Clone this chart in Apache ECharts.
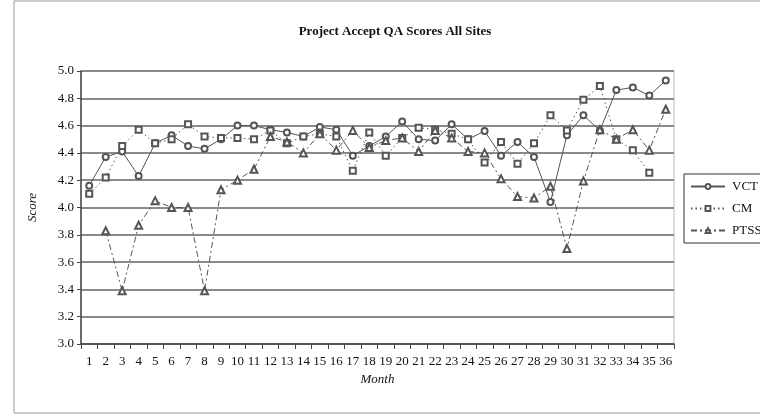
<!DOCTYPE html>
<html>
<head>
<meta charset="utf-8">
<style>
  html, body { margin: 0; padding: 0; background: #fff; }
  #chart { width: 760px; height: 417px; }
</style>
<script src="https://cdn.jsdelivr.net/npm/echarts@6/dist/echarts.min.js"></script>
</head>
<body>
<div id="chart"></div>
<script>
  // Months on the category axis
  var months = ['1', '2', '3', '4', '5', '6', '7', '8', '9', '10', '11', '12',
    '13', '14', '15', '16', '17', '18', '19', '20', '21', '22', '23', '24',
    '25', '26', '27', '28', '29', '30', '31', '32', '33', '34', '35', '36'];

  // QA scores per site
  var vct = [4.16, 4.37, 4.41, 4.23, 4.47, 4.53, 4.45, 4.43, 4.50, 4.60, 4.60, 4.57,
    4.55, 4.52, 4.59, 4.57, 4.38, 4.45, 4.52, 4.63, 4.50, 4.49, 4.61, 4.50,
    4.56, 4.38, 4.48, 4.37, 4.04, 4.53, 4.675, 4.565, 4.86, 4.88, 4.82, 4.93];
  var cm = [4.10, 4.22, 4.45, 4.57, 4.47, 4.50, 4.61, 4.52, 4.51, 4.51, 4.50, 4.565,
    4.47, 4.52, 4.54, 4.52, 4.27, 4.55, 4.38, 4.51, 4.585, 4.57, 4.54, 4.50,
    4.33, 4.48, 4.32, 4.47, 4.675, 4.565, 4.79, 4.89, 4.50, 4.42, 4.255, null];
  var ptss = [null, 3.83, 3.39, 3.87, 4.05, 4.00, 4.00, 3.39, 4.13, 4.20, 4.28, 4.52,
    4.48, 4.40, 4.54, 4.42, 4.565, 4.44, 4.49, 4.51, 4.41, 4.565, 4.51, 4.41,
    4.40, 4.21, 4.08, 4.07, 4.155, 3.70, 4.195, 4.57, 4.50, 4.57, 4.42, 4.72];

  var serif = '"Liberation Serif", "DejaVu Serif", serif';
  var lineColor = '#555';

  function makeSeries(name, data, symbol, size, dash) {
    return {
      name: name,
      type: 'line',
      data: data,
      symbol: symbol,
      symbolSize: size,
      showAllSymbol: true,
      connectNulls: false,
      animation: false,
      // empty* symbols: stroke takes the item colour, fill stays white
      itemStyle: { color: '#555', borderWidth: 0.8 },
      lineStyle: { color: lineColor, width: 1, type: dash },
      emphasis: { disabled: true }
    };
  }

  var chart = echarts.init(document.getElementById('chart'));

  chart.setOption({
    backgroundColor: '#fff',
    animation: false,
    title: {
      text: 'Project Accept QA Scores All Sites',
      left: 390,
      textAlign: 'center',
      top: 20,
      textStyle: { fontFamily: serif, fontSize: 13, fontWeight: 'bold', color: '#111' }
    },
    graphic: [{
      type: 'rect',
      shape: { x: 14, y: 1, width: 800, height: 412 },
      style: { fill: 'none', stroke: '#999', lineWidth: 1 },
      silent: true
    }],
    legend: {
      orient: 'vertical',
      left: 684,
      top: 174,
      itemWidth: 34,
      itemHeight: 6,
      itemGap: 9,
      padding: [6, 8, 6, 6],
      borderColor: '#333',
      borderWidth: 1,
      backgroundColor: '#fff',
      textStyle: { fontFamily: serif, fontSize: 13, color: '#111', padding: [0, 0, 0, 2] },
      data: ['VCT', 'CM', 'PTSS']
    },
    grid: {
      left: 81,
      right: 86,
      top: 71,
      bottom: 73,
      show: true,
      borderColor: '#bbb',
      borderWidth: 1
    },
    xAxis: {
      type: 'category',
      data: months,
      boundaryGap: true,
      name: 'Month',
      nameLocation: 'middle',
      nameGap: 28,
      nameTextStyle: { fontFamily: serif, fontSize: 13, fontStyle: 'italic', color: '#111' },
      axisLine: { lineStyle: { color: '#444', width: 1.5 } },
      axisTick: { show: true, length: 5, inside: false, lineStyle: { color: '#444' } },
      axisLabel: { interval: 0, fontFamily: serif, fontSize: 13, color: '#111', margin: 11 },
      splitLine: { show: false }
    },
    yAxis: {
      type: 'value',
      min: 3.0,
      max: 5.0,
      interval: 0.2,
      name: 'Score',
      nameLocation: 'middle',
      nameGap: 42,
      nameTextStyle: { fontFamily: serif, fontSize: 13, fontStyle: 'italic', color: '#111' },
      axisLine: { show: true, lineStyle: { color: '#444', width: 1.5 } },
      axisTick: { show: true, length: 4, lineStyle: { color: '#444' } },
      axisLabel: {
        fontFamily: serif, fontSize: 13, color: '#111', margin: 7,
        formatter: function (v) { return v.toFixed(1); }
      },
      splitLine: { show: true, lineStyle: { color: '#8a8a8a', width: 2 } }
    },
    series: [
      makeSeries('VCT', vct, 'emptyCircle', 6, 'solid'),
      makeSeries('CM', cm, 'emptyRect', 6, [1.5, 3]),
      makeSeries('PTSS', ptss, 'emptyTriangle', 7, [6, 3, 2, 3])
    ]
  });
</script>
</body>
</html>
